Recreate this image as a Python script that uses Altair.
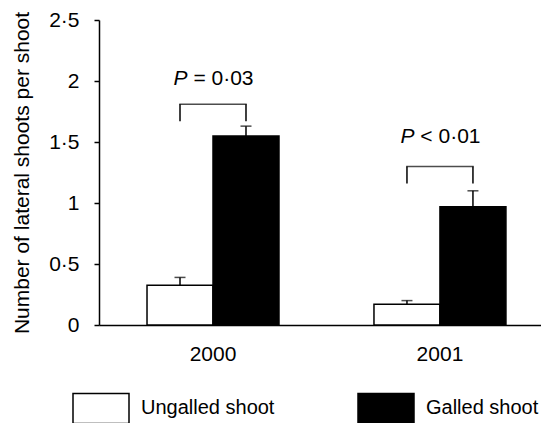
import altair as alt
import pandas as pd

years = ["2000", "2001"]
groups = ["Ungalled shoot", "Galled shoot"]
ungalled_mean = [0.325, 0.17]
ungalled_err = [0.065, 0.03]
galled_mean = [1.55, 0.97]
galled_err = [0.08, 0.13]
bracket_top = [1.81, 1.30]
bracket_leg = [1.67, 1.16]
p_label_y = [2.02, 1.54]
p_text = ["= 0·03", "< 0·01"]
y_ticks = [0, 0.5, 1, 1.5, 2, 2.5]

rows = []
for i, yr in enumerate(years):
    rows.append(dict(year=yr, group=groups[0], mean=ungalled_mean[i],
                     upper=ungalled_mean[i] + ungalled_err[i]))
    rows.append(dict(year=yr, group=groups[1], mean=galled_mean[i],
                     upper=galled_mean[i] + galled_err[i]))
bars_df = pd.DataFrame(rows)
legs_df = pd.DataFrame([dict(year=yr, group=g, top=bracket_top[i], leg=bracket_leg[i])
                        for i, yr in enumerate(years) for g in groups])
tops_df = pd.DataFrame(dict(year=years, top=bracket_top))
labels_df = pd.DataFrame(dict(year=years, y=p_label_y, text=p_text))

FS = 21
TITLE = "Number of lateral shoots per shoot"
x_enc = alt.X("year:N",
              scale=alt.Scale(domain=years, paddingInner=0.4185, paddingOuter=0.183, align=0.578),
              axis=alt.Axis(title=None, ticks=False, labelAngle=0, labelFontSize=FS,
                            labelPadding=18, domainColor="black", domainWidth=1.5,
                            labelColor="black"))
x_plain = alt.X("year:N")
xoff = alt.XOffset("group:N", scale=alt.Scale(domain=groups, paddingInner=0, paddingOuter=0))
y_axis = alt.Axis(values=y_ticks, format="~g",
                  labelExpr="replace(datum.label, '.', '·')",
                  title=TITLE,
                  titleFontSize=FS, titleFontWeight="normal", titleColor="black",
                  titlePadding=16, tickSize=5, tickColor="black", tickWidth=1.5,
                  labelPadding=15, labelFontSize=FS, labelColor="black",
                  grid=False, domainColor="black", domainWidth=1.5)

bars = alt.Chart(bars_df).mark_bar(stroke="black", strokeWidth=1.5, opacity=1).encode(
    x=x_enc,
    xOffset=xoff,
    y=alt.Y("mean:Q", scale=alt.Scale(domain=[0, 2.5], nice=False), axis=y_axis),
    fill=alt.Fill("group:N", scale=alt.Scale(domain=groups, range=["white", "black"]),
                  legend=alt.Legend(title=None, orient="none", legendX=-27, legendY=359,
                                    direction="horizontal",
                                    symbolType="M-1,-0.536H1V0.536H-1Z", symbolSize=3136,
                                    symbolStrokeColor="black", symbolStrokeWidth=1.5,
                                    symbolOpacity=1, labelFontSize=20, labelOffset=11,
                                    columnPadding=80, labelColor="black", padding=0)),
)

err = alt.Chart(bars_df).mark_rule(color="black", strokeWidth=1.5).encode(
    x=x_plain, xOffset=xoff,
    y=alt.Y("mean:Q", title=TITLE), y2="upper:Q")
cap = alt.Chart(bars_df).mark_tick(color="black", size=11, thickness=1.5).encode(
    x=x_plain, xOffset=xoff, y=alt.Y("upper:Q", title=TITLE))

legs = alt.Chart(legs_df).mark_rule(color="black", strokeWidth=1.5).encode(
    x=x_plain, xOffset=xoff, y=alt.Y("leg:Q", title=TITLE), y2="top:Q")
top = alt.Chart(tops_df).mark_tick(color="black", size=67.5, thickness=1.5).encode(
    x=x_plain, y=alt.Y("top:Q", title=TITLE))

ptxt = alt.Chart(labels_df).mark_text(text="P", fontStyle="italic", align="left", dx=-39.4,
                                      baseline="middle", fontSize=FS, color="black").encode(
    x=x_plain, y=alt.Y("y:Q", title=TITLE))
vtxt = alt.Chart(labels_df).mark_text(align="left", dx=-19.6, baseline="middle",
                                      fontSize=FS, color="black").encode(
    x=x_plain, y=alt.Y("y:Q", title=TITLE), text="text:N")

chart = alt.layer(bars, err, cap, legs, top, ptxt, vtxt).properties(
    width=442, height=305,
    autosize=alt.AutoSizeParams(type="none"),
    padding={"left": 91, "top": 12, "right": 0, "bottom": 98},
).configure(font="Liberation Sans").configure_view(stroke=None)

chart.save("out.html", embed_options={"renderer": "svg", "actions": False})
